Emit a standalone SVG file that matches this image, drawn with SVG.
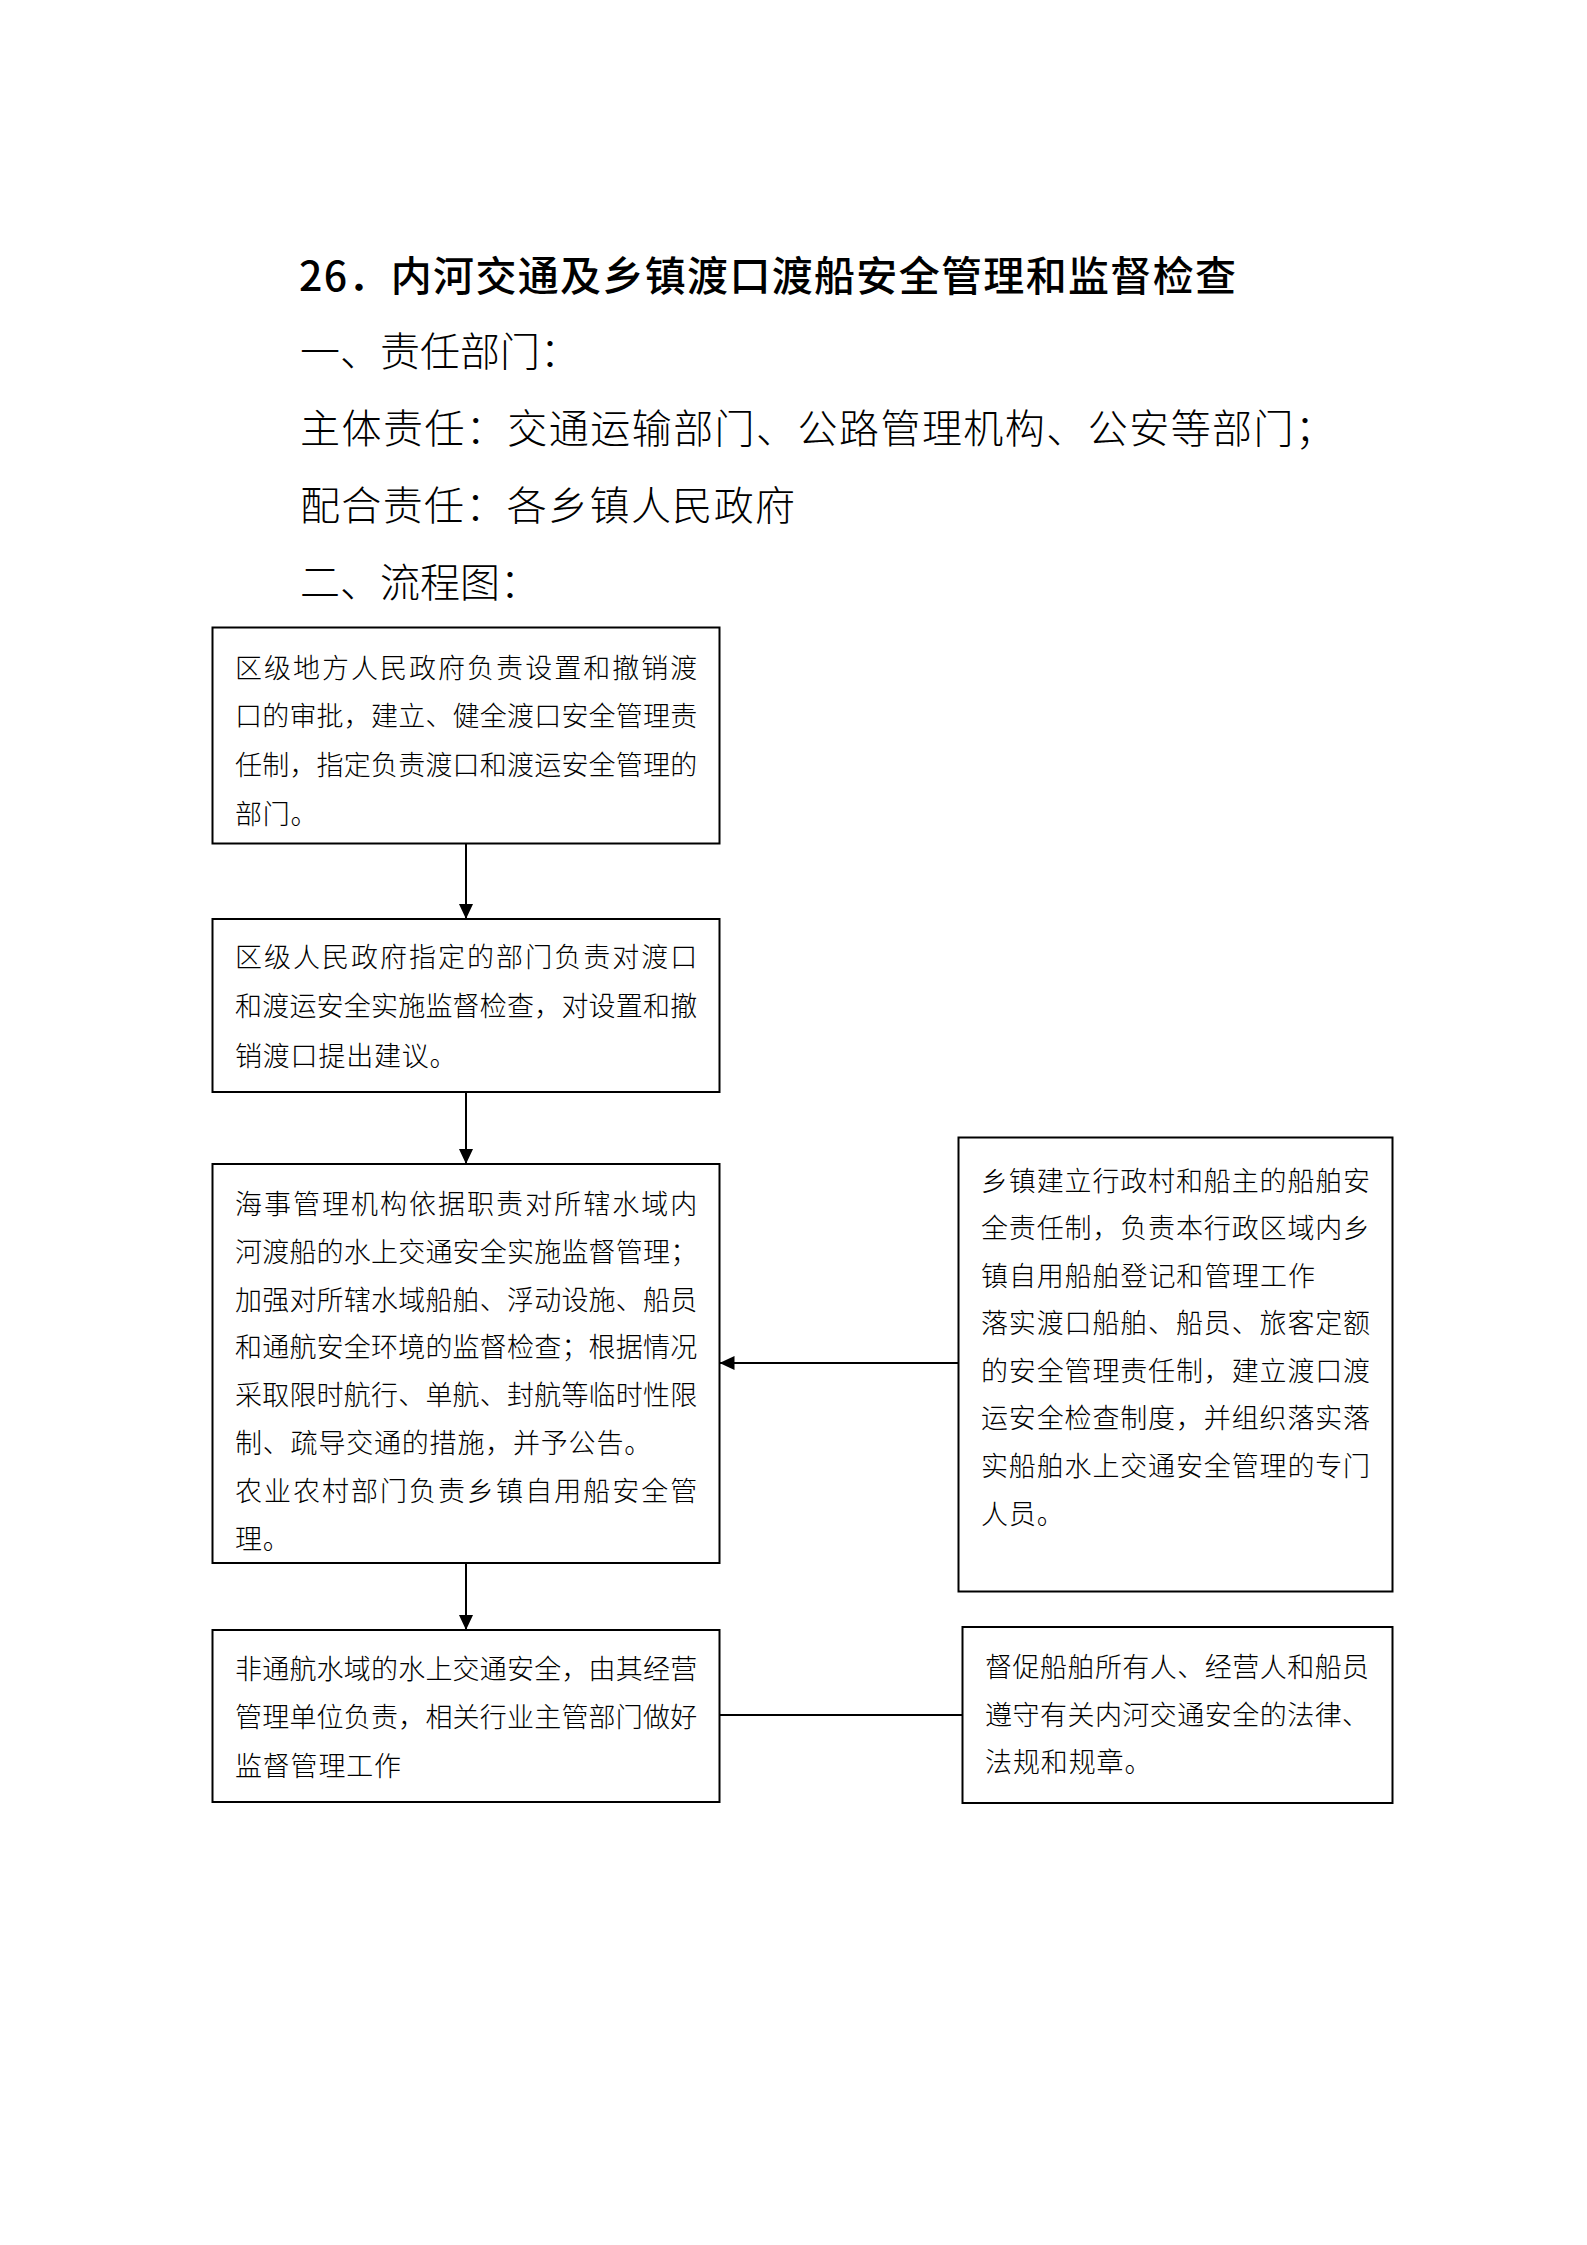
<svg xmlns="http://www.w3.org/2000/svg" width="1587" height="2245" viewBox="0 0 1587 2245">
<style>
text{font-family:"Noto Sans CJK SC","Noto Sans CJK JP",sans-serif;fill:#000}
.title{font-size:41px;font-weight:500}
.head{font-size:40px;font-weight:300}
.t{font-size:27px;letter-spacing:0.8px;font-weight:300}
.t4{font-size:27px;letter-spacing:0.9px;font-weight:300}
.box{fill:#fff;stroke:#000;stroke-width:2}
.conn{stroke:#000;stroke-width:2;fill:none}
</style>
<defs>
<marker id="arr" markerUnits="userSpaceOnUse" markerWidth="16" markerHeight="14" refX="15" refY="7" orient="auto">
<path d="M0,0 L15,7 L0,14 z" fill="#000"/>
</marker>
</defs>
<rect width="1587" height="2245" fill="#fff"/>
<g id="header">
<text class="title" x="299" y="291" textLength="937" lengthAdjust="spacing">26．内河交通及乡镇渡口渡船安全管理和监督检查</text>
<text class="head" x="300" y="366">一、责任部门：</text>
<text class="head" x="300" y="443" textLength="1035" lengthAdjust="spacing">主体责任：交通运输部门、公路管理机构、公安等部门；</text>
<text class="head" x="300" y="520" textLength="495" lengthAdjust="spacing">配合责任：各乡镇人民政府</text>
<text class="head" x="300" y="597">二、流程图：</text>
</g>
<g id="connectors">
<line class="conn" x1="466" y1="843.5" x2="466" y2="919" marker-end="url(#arr)"/>
<line class="conn" x1="466" y1="1092" x2="466" y2="1164" marker-end="url(#arr)"/>
<line class="conn" x1="466" y1="1563" x2="466" y2="1630" marker-end="url(#arr)"/>
<line class="conn" x1="958.5" y1="1363" x2="719.5" y2="1363" marker-end="url(#arr)"/>
<line class="conn" x1="719.5" y1="1715" x2="962.5" y2="1715"/>
</g>
<g id="node1">
<rect class="box" x="212.5" y="627.5" width="507" height="216"/>
<text class="t" x="235" y="677.5" textLength="463" lengthAdjust="spacing">区级地方人民政府负责设置和撤销渡</text>
<text class="t" x="235" y="726.3" textLength="463" lengthAdjust="spacing">口的审批，建立、健全渡口安全管理责</text>
<text class="t" x="235" y="775.1" textLength="463" lengthAdjust="spacing">任制，指定负责渡口和渡运安全管理的</text>
<text class="t" x="235" y="823.9">部门。</text>
</g>
<g id="node2">
<rect class="box" x="212.5" y="919" width="507" height="173"/>
<text class="t" x="235" y="967" textLength="463" lengthAdjust="spacing">区级人民政府指定的部门负责对渡口</text>
<text class="t" x="235" y="1016" textLength="463" lengthAdjust="spacing">和渡运安全实施监督检查，对设置和撤</text>
<text class="t" x="235" y="1065.5">销渡口提出建议。</text>
</g>
<g id="node3">
<rect class="box" x="212.5" y="1164" width="507" height="399"/>
<text class="t" x="235" y="1213.8" textLength="463" lengthAdjust="spacing">海事管理机构依据职责对所辖水域内</text>
<text class="t" x="235" y="1261.7" textLength="463" lengthAdjust="spacing">河渡船的水上交通安全实施监督管理；</text>
<text class="t" x="235" y="1309.5" textLength="463" lengthAdjust="spacing">加强对所辖水域船舶、浮动设施、船员</text>
<text class="t" x="235" y="1357.4" textLength="463" lengthAdjust="spacing">和通航安全环境的监督检查；根据情况</text>
<text class="t" x="235" y="1405.2" textLength="463" lengthAdjust="spacing">采取限时航行、单航、封航等临时性限</text>
<text class="t" x="235" y="1453.1">制、疏导交通的措施，并予公告。</text>
<text class="t" x="235" y="1501" textLength="463" lengthAdjust="spacing">农业农村部门负责乡镇自用船安全管</text>
<text class="t" x="235" y="1548.8">理。</text>
</g>
<g id="node4">
<rect class="box" x="958.5" y="1137.5" width="434" height="454"/>
<text class="t4" x="981" y="1190.5" textLength="390" lengthAdjust="spacing">乡镇建立行政村和船主的船舶安</text>
<text class="t4" x="981" y="1238.1" textLength="390" lengthAdjust="spacing">全责任制，负责本行政区域内乡</text>
<text class="t4" x="981" y="1285.6">镇自用船舶登记和管理工作</text>
<text class="t4" x="981" y="1333.2" textLength="390" lengthAdjust="spacing">落实渡口船舶、船员、旅客定额</text>
<text class="t4" x="981" y="1380.8" textLength="390" lengthAdjust="spacing">的安全管理责任制，建立渡口渡</text>
<text class="t4" x="981" y="1428.4" textLength="390" lengthAdjust="spacing">运安全检查制度，并组织落实落</text>
<text class="t4" x="981" y="1475.9" textLength="390" lengthAdjust="spacing">实船舶水上交通安全管理的专门</text>
<text class="t4" x="981" y="1523.5">人员。</text>
</g>
<g id="node5">
<rect class="box" x="212.5" y="1630" width="507" height="172"/>
<text class="t" x="235" y="1679" textLength="463" lengthAdjust="spacing">非通航水域的水上交通安全，由其经营</text>
<text class="t" x="235" y="1727.3" textLength="463" lengthAdjust="spacing">管理单位负责，相关行业主管部门做好</text>
<text class="t" x="235" y="1775.6">监督管理工作</text>
</g>
<g id="node6">
<rect class="box" x="962.5" y="1627" width="430" height="176"/>
<text class="t4" x="985" y="1677.2" textLength="385" lengthAdjust="spacing">督促船舶所有人、经营人和船员</text>
<text class="t4" x="985" y="1724.7" textLength="385" lengthAdjust="spacing">遵守有关内河交通安全的法律、</text>
<text class="t4" x="985" y="1772.2">法规和规章。</text>
</g>
</svg>
